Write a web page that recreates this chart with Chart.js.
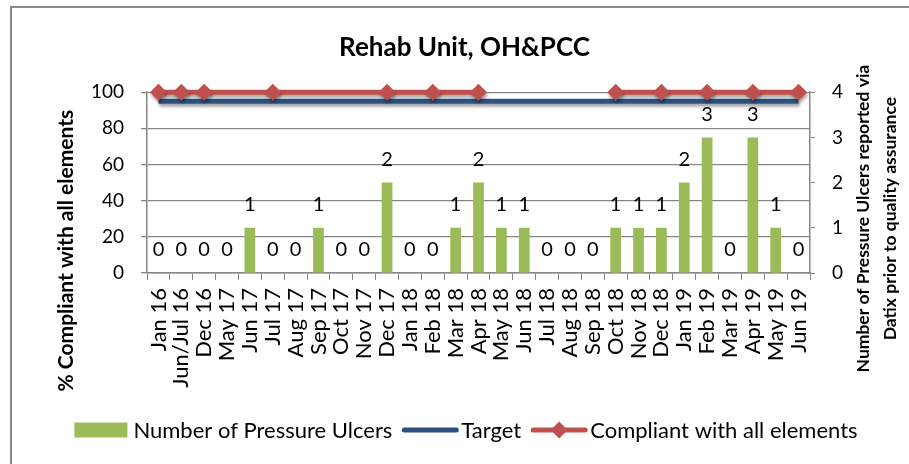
<!DOCTYPE html>
<html>
<head>
<meta charset="utf-8">
<title>Rehab Unit, OH&amp;PCC</title>
<script src="https://cdn.jsdelivr.net/npm/chart.js@4.4.1/dist/chart.umd.min.js"></script>
<style>
  html, body { margin: 0; padding: 0; background: #fff; }
  #wrap { position: relative; width: 909px; height: 464px; overflow: hidden; }
  #frame { position: absolute; left: 10px; top: 6px; width: 910px; height: 470px; border: 2px solid #8a8a8a; box-sizing: border-box; }
  #chart { position: absolute; left: 0; top: 0; }
</style>
</head>
<body>
<div id="wrap">
  <div id="frame"></div>
  <canvas id="chart" width="909" height="464"></canvas>
</div>
<script>
// chart data
const categories = ['Jan 16', 'Jun/Jul 16', 'Dec 16', 'May 17', 'Jun 17', 'Jul 17', 'Aug 17', 'Sep 17',
  'Oct 17', 'Nov 17', 'Dec 17', 'Jan 18', 'Feb 18', 'Mar 18', 'Apr 18', 'May 18', 'Jun 18', 'Jul 18',
  'Aug 18', 'Sep 18', 'Oct 18', 'Nov 18', 'Dec 18', 'Jan 19', 'Feb 19', 'Mar 19', 'Apr 19', 'May 19', 'Jun 19'];
const pressureUlcers = [0, 0, 0, 0, 1, 0, 0, 1, 0, 0, 2, 0, 0, 1, 2, 1, 1, 0, 0, 0, 1, 1, 1, 2, 3, 0, 3, 1, 0];
const target = [95, 95, 95, 95, 95, 95, 95, 95, 95, 95, 95, 95, 95, 95, 95, 95, 95, 95, 95, 95, 95, 95, 95, 95, 95, 95, 95, 95, 95];
const compliant = [100, 100, 100, null, null, 100, null, null, null, null, 100, null, 100, null, 100, null,
  null, null, null, null, 100, null, 100, null, 100, null, 100, null, 100];
// the compliance line is not joined from this month to the next reading
const compliantBreaks = ['Apr 18'];
const leftTicks = [0, 20, 40, 60, 80, 100];
const rightTicks = [0, 1, 2, 3, 4];

const chartTitle = 'Rehab Unit, OH&PCC';
const leftTitle = '% Compliant with all elements';
const rightTitle = ['Number of Pressure Ulcers reported via', 'Datix prior to quality assurance'];

const GREEN = '#9BBB59';
const BLUE = '#2C5080';
const RED = '#C0504D';
const AXIS = '#868686';
const FONT = 'Lato, "Liberation Sans", sans-serif';

Chart.defaults.font.family = FONT;
Chart.defaults.color = '#000';

// true when index i lies after a break month, up to and including the next reading
function inBreak(i) {
  for (let j = i - 1; j >= 0; j--) {
    if (compliant[j] !== null) return compliantBreaks.includes(categories[j]);
  }
  return false;
}

function rotatedText(ctx, text, x, y) {
  ctx.save();
  ctx.translate(x, y);
  ctx.rotate(-Math.PI / 2);
  ctx.fillText(text, 0, 0);
  ctx.restore();
}

function diamond(ctx, x, y, r) {
  ctx.beginPath();
  ctx.moveTo(x - r, y);
  ctx.lineTo(x, y - r);
  ctx.lineTo(x + r, y);
  ctx.lineTo(x, y + r);
  ctx.closePath();
  ctx.fill();
}

const extras = {
  id: 'extras',
  // Excel style drop shadow under the two lines
  beforeDatasetDraw(chart, args) {
    if (args.meta.type !== 'line') return;
    const ctx = chart.ctx;
    ctx.save();
    ctx.shadowColor = 'rgba(0,0,0,0.35)';
    ctx.shadowBlur = 3;
    ctx.shadowOffsetX = 1;
    ctx.shadowOffsetY = 3;
  },
  afterDatasetDraw(chart, args) {
    if (args.meta.type === 'line') chart.ctx.restore();
  },
  afterDatasetsDraw(chart) {
    // value labels above the bars
    const ctx = chart.ctx;
    const meta = chart.getDatasetMeta(0);
    ctx.save();
    ctx.font = '20px ' + FONT;
    ctx.fillStyle = '#000';
    ctx.textAlign = 'center';
    ctx.textBaseline = 'middle';
    meta.data.forEach((bar, i) => {
      ctx.fillText(String(pressureUlcers[i]), bar.x, bar.y - 23);
    });
    ctx.restore();
  },
  afterDraw(chart) {
    const ctx = chart.ctx;
    const area = chart.chartArea;
    const mid = (area.top + area.bottom) / 2;

    // axis titles
    ctx.save();
    ctx.fillStyle = '#000';
    ctx.textAlign = 'center';
    ctx.textBaseline = 'middle';
    ctx.font = 'bold 21px ' + FONT;
    rotatedText(ctx, leftTitle, chart.scales.y.left + 46, mid + 68);
    ctx.font = 'bold 17.5px ' + FONT;
    rotatedText(ctx, rightTitle[0], chart.scales.y1.left + 53, mid + 36);
    rotatedText(ctx, rightTitle[1], chart.scales.y1.left + 80, mid + 36);
    ctx.restore();

    // legend along the bottom
    ctx.save();
    ctx.font = '22px ' + FONT;
    ctx.textBaseline = 'middle';
    ctx.textAlign = 'left';
    const ly = 430;
    const items = chart.data.datasets.map(ds => ({
      label: ds.label, type: ds.type, color: ds.borderColor || ds.backgroundColor, marker: ds.pointRadius > 0,
      sym: ds.type === 'bar' ? 53 : 56
    }));
    let total = 0;
    items.forEach((it, i) => {
      it.w = ctx.measureText(it.label).width;
      total += it.sym + (it.type === 'bar' ? 6 : 3) + it.w + (i < items.length - 1 ? 10 : 0);
    });
    let x = 466 - total / 2;
    items.forEach(it => {
      if (it.type === 'bar') {
        ctx.fillStyle = GREEN;
        ctx.fillRect(x, ly - 7.5, it.sym, 15);
        x += it.sym + 6;
      } else {
        ctx.strokeStyle = it.color;
        ctx.lineWidth = 5;
        ctx.lineCap = 'round';
        ctx.beginPath();
        ctx.moveTo(x + 2, ly);
        ctx.lineTo(x + it.sym - 2, ly);
        ctx.stroke();
        if (it.marker) {
          ctx.fillStyle = it.color;
          diamond(ctx, x + it.sym / 2, ly, 8.5);
        }
        x += it.sym + 3;
      }
      ctx.fillStyle = '#000';
      ctx.fillText(it.label, x, ly + 1);
      x += it.w + 10;
    });
    ctx.restore();
  }
};

const ctx = document.getElementById('chart').getContext('2d');
const chart = new Chart(ctx, {
  data: {
    labels: categories,
    datasets: [
      {
        type: 'bar',
        label: 'Number of Pressure Ulcers',
        data: pressureUlcers,
        yAxisID: 'y1',
        backgroundColor: GREEN,
        categoryPercentage: 1,
        barPercentage: 0.47,
        order: 3
      },
      {
        type: 'line',
        label: 'Target',
        data: target,
        yAxisID: 'y',
        borderColor: BLUE,
        borderWidth: 5,
        pointRadius: 0,
        tension: 0,
        clip: false,
        order: 2
      },
      {
        type: 'line',
        label: 'Compliant with all elements',
        data: compliant,
        yAxisID: 'y',
        borderColor: RED,
        backgroundColor: RED,
        borderWidth: 5,
        pointStyle: 'rectRot',
        pointRadius: 8.5,
        pointBorderWidth: 0,
        pointBackgroundColor: RED,
        spanGaps: true,
        clip: false,
        segment: {
          borderColor: c => inBreak(c.p1DataIndex) ? 'rgba(0,0,0,0)' : undefined
        },
        order: 1
      }
    ]
  },
  options: {
    responsive: false,
    animation: false,
    layout: { padding: { left: 20, right: 0, top: 0, bottom: 71 } },
    plugins: {
      legend: { display: false },
      tooltip: { enabled: false },
      title: {
        display: true,
        text: chartTitle,
        font: { size: 26, weight: 'bold' },
        color: '#000',
        padding: { top: 32, bottom: 29 }
      }
    },
    scales: {
      x: {
        offset: true,
        grid: { display: true, drawOnChartArea: false, color: AXIS, tickLength: 7, offset: true },
        border: { color: AXIS, width: 1.5 },
        ticks: { autoSkip: false, maxRotation: 90, minRotation: 90, padding: 8, font: { size: 22 } },
        afterFit: s => { s.height = 120; }
      },
      y: {
        position: 'left',
        min: leftTicks[0],
        max: leftTicks[leftTicks.length - 1],
        ticks: { stepSize: leftTicks[1] - leftTicks[0], padding: 17, font: { size: 19 } },
        grid: { color: AXIS, lineWidth: 1.3, tickLength: 6 },
        border: { color: AXIS, width: 1.5 },
        afterFit: s => { s.width = 127; }
      },
      y1: {
        position: 'right',
        min: rightTicks[0],
        max: rightTicks[rightTicks.length - 1],
        ticks: { stepSize: rightTicks[1] - rightTicks[0], padding: 17, font: { size: 19 } },
        grid: { drawOnChartArea: false, color: AXIS, tickLength: 5 },
        border: { color: AXIS, width: 1.5 },
        afterFit: s => { s.width = 99; }
      }
    }
  },
  plugins: [extras]
});
</script>
</body>
</html>
